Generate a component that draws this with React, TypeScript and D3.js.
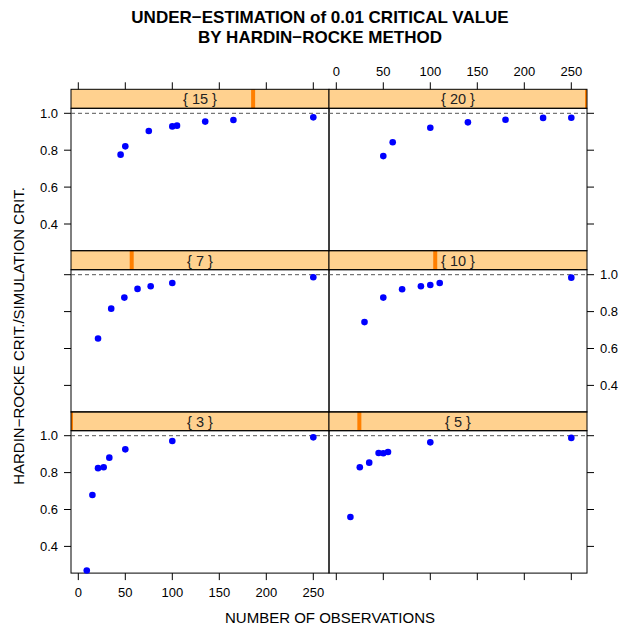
import React from 'react';
import * as d3 from 'd3';

// conditioning levels (shingle) and the N / ratio pairs
const levels = [3, 5, 7, 10, 15, 20];

const n3 = [9, 15, 21, 27, 33, 50, 100, 250];
const r3 = [0.269, 0.679, 0.824, 0.829, 0.881, 0.926, 0.971, 0.991];
const n5 = [15, 25, 35, 45, 50, 55, 100, 250];
const r5 = [0.559, 0.829, 0.854, 0.906, 0.905, 0.912, 0.964, 0.988];
const n7 = [21, 35, 49, 63, 77, 100, 250];
const r7 = [0.654, 0.816, 0.876, 0.923, 0.937, 0.955, 0.986];
const n10 = [30, 50, 70, 90, 100, 110, 250];
const r10 = [0.743, 0.876, 0.921, 0.937, 0.944, 0.955, 0.984];
const n15 = [45, 50, 75, 100, 105, 135, 165, 250];
const r15 = [0.776, 0.821, 0.904, 0.929, 0.933, 0.955, 0.964, 0.978];
const n20 = [50, 60, 100, 140, 180, 220, 250];
const r20 = [0.768, 0.843, 0.922, 0.951, 0.965, 0.975, 0.976];

const xTicks = [0, 50, 100, 150, 200, 250];
const yTicks = [0.4, 0.6, 0.8, 1.0];

const title1 = 'UNDER\u2212ESTIMATION of 0.01 CRITICAL VALUE';
const title2 = 'BY HARDIN\u2212ROCKE METHOD';
const xLabel = 'NUMBER OF OBSERVATIONS';
const yLabel = 'HARDIN\u2212ROCKE CRIT./SIMULATION CRIT.';

const W = 620, H = 629;
const colX = [71, 329];
const panelW = 258;
const rowTop = [89.3, 250.7, 411.7]; // strip tops
const stripH = 19;
const panelH = 142.4;
const font = 'Liberation Sans, Arial, sans-serif';
const tickLen = 7;

const series = [n3, n5, n7, n10, n15, n20].map((n, i) => ({
  level: levels[i],
  pts: n.map((v, j) => ({ n: v, r: [r3, r5, r7, r10, r15, r20][i][j] })),
}));

const App = () => {
  const lvlScale = d3.scaleLinear().domain(d3.extent(levels) as [number, number]).range([0, panelW]);

  const panels = series.map((s, i) => {
    const col = i % 2;
    const row = 2 - Math.floor(i / 2);
    const x0 = colX[col];
    const sTop = rowTop[row];
    const pTop = sTop + stripH;
    const x = d3.scaleLinear().domain([-7.77, 266.7]).range([x0, x0 + panelW]);
    const y = d3.scaleLinear().domain([0.2553, 1.0271]).range([pTop + panelH, pTop]);
    return { ...s, col, row, x0, sTop, pTop, x, y };
  });

  return (
    <svg width={W} height={H} style={{ position: 'absolute', left: 0, top: 0, background: '#fff' }} fontFamily={font}>
      <defs>
        {panels.map((p, i) => (
          <clipPath id={`strip${i}`} key={i}>
            <rect x={p.x0} y={p.sTop} width={panelW} height={stripH} />
          </clipPath>
        ))}
      </defs>
      <text x={320} y={23} textAnchor="middle" fontSize={17} fontWeight="bold">{title1}</text>
      <text x={320} y={43} textAnchor="middle" fontSize={17} fontWeight="bold">{title2}</text>

      {panels.map((p, i) => {
        const bx = p.x0 + lvlScale(p.level);
        const showLeftLabels = p.col === 0 && p.row !== 1;
        const showRightLabels = p.col === 1 && p.row === 1;
        const pBottom = p.pTop + panelH;
        return (
          <g key={i}>
            {/* strip */}
            <rect x={p.x0} y={p.sTop} width={panelW} height={stripH} fill="#FFD18F" />
            <rect x={bx - 2} y={p.sTop} width={4} height={stripH} fill="#FF7F00" clipPath={`url(#strip${i})`} />
            <rect x={p.x0} y={p.sTop} width={panelW} height={stripH} fill="none" stroke="#000" strokeWidth={1} />
            <text x={p.x0 + panelW / 2} y={p.sTop + 15} textAnchor="middle" fontSize={14.5} fill="#222">
              {`{ ${p.level} }`}
            </text>
            {/* panel frame */}
            <rect x={p.x0} y={p.pTop} width={panelW} height={panelH} fill="none" stroke="#000" strokeWidth={1} />
            {/* reference line */}
            <line x1={p.x0} x2={p.x0 + panelW} y1={p.y(1)} y2={p.y(1)} stroke="#555" strokeDasharray="4,3" strokeWidth={1} />
            {/* points */}
            {p.pts.map((d, j) => (
              <circle key={j} cx={p.x(d.n)} cy={p.y(d.r)} r={3.3} fill="#0000FF" />
            ))}
            {/* y ticks */}
            {p.col === 0 && yTicks.map(t => (
              <g key={`yl${t}`}>
                <line x1={p.x0 - tickLen} x2={p.x0} y1={p.y(t)} y2={p.y(t)} stroke="#000" />
                {showLeftLabels && (
                  <text x={p.x0 - 13} y={p.y(t) + 4.5} textAnchor="end" fontSize={13}>{t.toFixed(1)}</text>
                )}
              </g>
            ))}
            {p.col === 1 && yTicks.map(t => (
              <g key={`yr${t}`}>
                <line x1={p.x0 + panelW} x2={p.x0 + panelW + tickLen} y1={p.y(t)} y2={p.y(t)} stroke="#000" />
                {showRightLabels && (
                  <text x={p.x0 + panelW + 13} y={p.y(t) + 4.5} textAnchor="start" fontSize={13}>{t.toFixed(1)}</text>
                )}
              </g>
            ))}
            {/* x ticks top */}
            {p.row === 0 && xTicks.map(t => (
              <g key={`xt${t}`}>
                <line x1={p.x(t)} x2={p.x(t)} y1={p.sTop - tickLen} y2={p.sTop} stroke="#000" />
                {p.col === 1 && (
                  <text x={p.x(t)} y={p.sTop - 13} textAnchor="middle" fontSize={13}>{t}</text>
                )}
              </g>
            ))}
            {/* x ticks bottom */}
            {p.row === 2 && xTicks.map(t => (
              <g key={`xb${t}`}>
                <line x1={p.x(t)} x2={p.x(t)} y1={pBottom} y2={pBottom + tickLen} stroke="#000" />
                {p.col === 0 && (
                  <text x={p.x(t)} y={pBottom + 24} textAnchor="middle" fontSize={13}>{t}</text>
                )}
              </g>
            ))}
          </g>
        );
      })}

      <text x={330} y={623} textAnchor="middle" fontSize={15}>{xLabel}</text>
      <text transform={`translate(24,336) rotate(-90)`} textAnchor="middle" fontSize={15}>{yLabel}</text>
    </svg>
  );
};

export default App;
